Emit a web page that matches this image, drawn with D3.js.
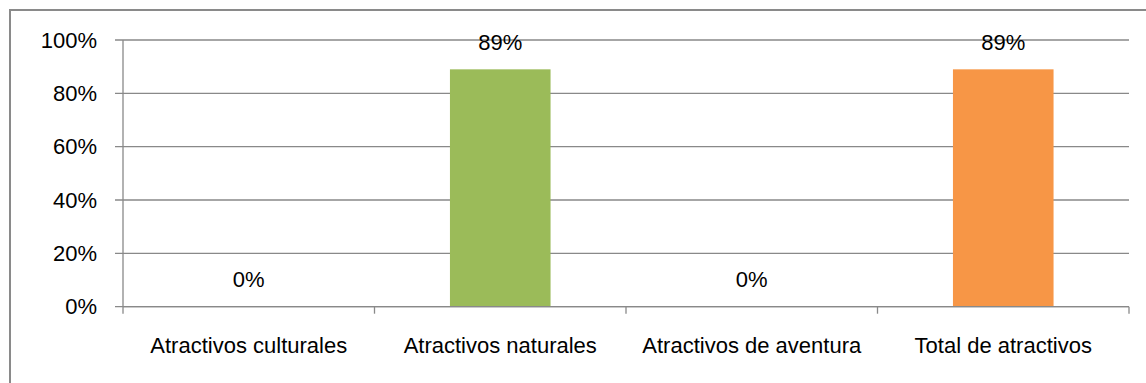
<!DOCTYPE html>
<html><head><meta charset="utf-8">
<script src="https://cdn.jsdelivr.net/npm/d3@7"></script>
<style>body{margin:0;background:#fff}svg{display:block}text{font-family:"Liberation Sans",Arial,sans-serif;fill:#000}</style>
</head><body>
<svg id="c" width="1146" height="383"></svg>
<script>
const categories = ["Atractivos culturales","Atractivos naturales","Atractivos de aventura","Total de atractivos"];
const values = [0, 0.89, 0, 0.89];
const colors = ["#4F81BD","#9BBB59","#8064A2","#F79646"];
const yTicks = [0, 0.2, 0.4, 0.6, 0.8, 1.0];

const svg = d3.select("#c");
const m = {left:123, right:1129, top:40, bottom:306.7};
const x = d3.scaleBand().domain(categories).range([m.left, m.right]).paddingInner(0.6).paddingOuter(0.3);
const xb = d3.scaleBand().domain(categories).range([m.left, m.right]);
const y = d3.scaleLinear().domain([0,1]).range([m.bottom, m.top]);
const grid = "#898989";
const fs = "22px";

// outer border
svg.append("rect").attr("x",10).attr("y",10).attr("width",1150).attr("height",400)
  .attr("fill","none").attr("stroke","#8a8a8a").attr("stroke-width",2);

// gridlines
svg.append("g").selectAll("line").data(yTicks).join("line")
  .attr("x1", m.left-8).attr("x2", m.right).attr("y1", d=>y(d)).attr("y2", d=>y(d))
  .attr("stroke", grid).attr("stroke-width",1.3);

// y axis line
svg.append("line").attr("x1",m.left).attr("x2",m.left).attr("y1",m.top).attr("y2",m.bottom)
  .attr("stroke",grid).attr("stroke-width",1.3);

// y tick labels
svg.append("g").selectAll("text").data(yTicks).join("text")
  .attr("x", 97).attr("y", d=>y(d)+7.5).attr("text-anchor","end")
  .style("font-size",fs).text(d=>d3.format(".0%")(d));

// x category ticks
const bounds = categories.map(c=>xb(c)).concat([m.right]);
svg.append("g").selectAll("line").data(bounds).join("line")
  .attr("x1",d=>d).attr("x2",d=>d).attr("y1",m.bottom).attr("y2",m.bottom+7)
  .attr("stroke",grid).attr("stroke-width",1.3);

// bars
svg.append("g").selectAll("rect").data(values).join("rect")
  .attr("x",(d,i)=>x(categories[i])).attr("width",x.bandwidth())
  .attr("y",d=>y(d)).attr("height",d=>y(0)-y(d))
  .attr("fill",(d,i)=>colors[i]);

// x axis line
svg.append("line").attr("x1",m.left).attr("x2",m.right).attr("y1",m.bottom).attr("y2",m.bottom)
  .attr("stroke",grid).attr("stroke-width",1.3);

// data labels
svg.append("g").selectAll("text").data(values).join("text")
  .attr("x",(d,i)=>xb(categories[i])+xb.bandwidth()/2).attr("y",d=>y(d)-19.5)
  .attr("text-anchor","middle").style("font-size",fs).text(d=>d3.format(".0%")(d));

// category labels
svg.append("g").selectAll("text").data(categories).join("text")
  .attr("x",d=>xb(d)+xb.bandwidth()/2).attr("y",353)
  .attr("text-anchor","middle").style("font-size",fs).text(d=>d);
</script>
</body></html>
